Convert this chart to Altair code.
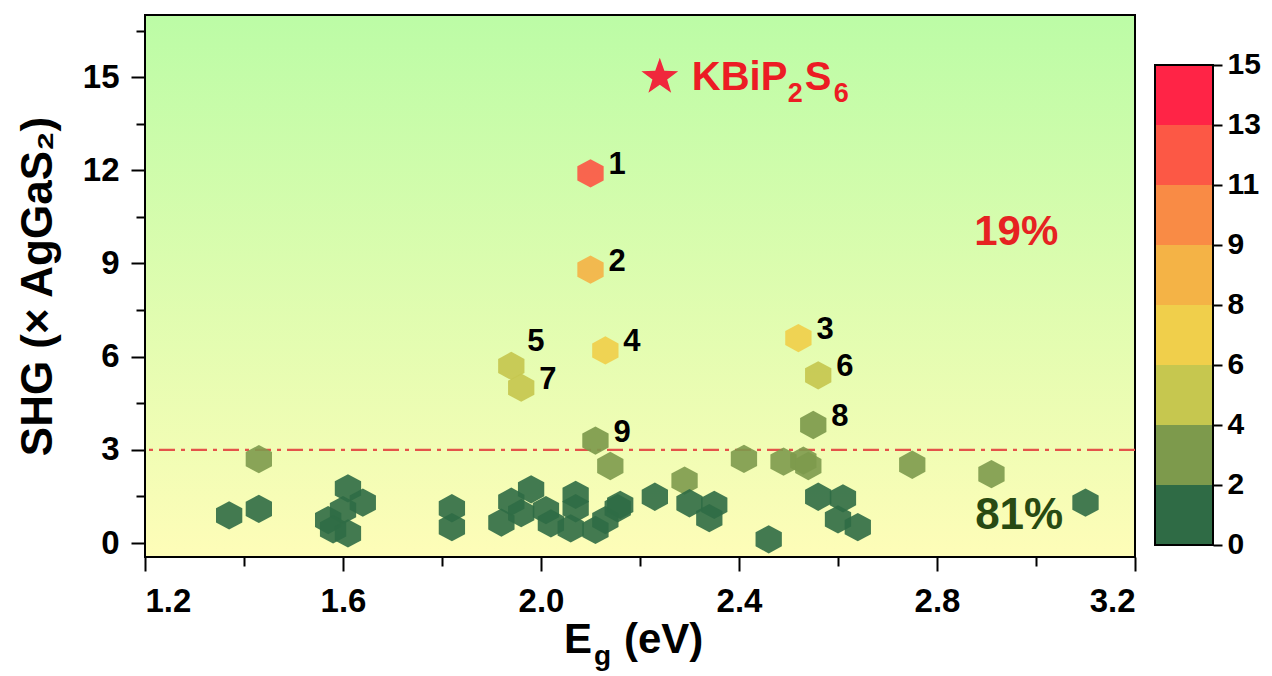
import json
import altair as alt
import pandas as pd

# ---------------- data ----------------
# labelled compounds 1-9
lab_names = ["1", "2", "3", "4", "5", "6", "7", "8", "9"]
lab_eg = [2.10, 2.10, 2.52, 2.13, 1.94, 2.56, 1.96, 2.55, 2.11]
lab_shg = [11.9, 8.8, 6.6, 6.2, 5.7, 5.4, 5.0, 3.8, 3.3]

# other compounds
oth_eg = [1.43, 1.37, 1.43, 1.61, 1.64, 1.60, 1.57, 1.58, 1.61, 1.82, 1.82,
          2.14, 2.41, 2.49, 2.53, 2.54, 2.29, 2.23, 1.92, 1.94, 1.98, 1.96,
          2.01, 2.02, 2.07, 2.07, 2.06, 2.11, 2.13, 2.16, 2.155, 2.30, 2.35,
          2.34, 2.46, 2.56, 2.61, 2.60, 2.64, 2.75, 2.91, 3.10]
oth_shg = [2.70, 0.89, 1.10, 1.76, 1.30, 1.06, 0.74, 0.44, 0.31, 1.12, 0.51,
           2.48, 2.71, 2.62, 2.65, 2.48, 2.01, 1.49, 0.66, 1.33, 1.73, 0.96,
           1.06, 0.63, 1.55, 1.12, 0.47, 0.42, 0.74, 1.23, 1.12, 1.28, 1.23,
           0.80, 0.12, 1.49, 1.44, 0.76, 0.51, 2.52, 2.22, 1.30]

# highlighted compound
star_eg = [2.24]
star_shg = [15.0]

# threshold line
ref_shg = [3]

# percentage annotations
pct_text = ["19%", "81%"]
pct_eg = [2.96, 2.966]
pct_shg = [10.0, 0.87]

# colour bar
cb_labels = ["0", "2", "4", "6", "8", "9", "11", "13", "15"]
cb_thresholds = [2, 4, 6, 8, 9, 11, 13]
palette = ["#2f6b45", "#7d9a4c", "#c6c74f", "#f0cf4b",
           "#f4b346", "#f98b45", "#fc5845", "#ff2446"]

x_ticks = [1.2, 1.4, 1.6, 1.8, 2.0, 2.2, 2.4, 2.6, 2.8, 3.0, 3.2]
y_ticks = [0, 1.5, 3, 4.5, 6, 7.5, 9, 10.5, 12, 13.5, 15, 16.5]

# ---------------- frames ----------------
lab_df = pd.DataFrame({"eg": lab_eg, "shg": lab_shg, "name": lab_names})
oth_df = pd.DataFrame({"eg": oth_eg, "shg": oth_shg})
star_df = pd.DataFrame({"eg": star_eg, "shg": star_shg})
ref_df = pd.DataFrame({"shg": ref_shg})
pct_df = pd.DataFrame({"eg": pct_eg, "shg": pct_shg, "t": pct_text})
cb_names = [f"{cb_labels[i]}–{cb_labels[i + 1]}" for i in range(len(cb_labels) - 1)]
cb_df = pd.DataFrame({"bin": cb_names, "lo": list(range(len(cb_names))),
                      "hi": list(range(1, len(cb_names) + 1))})
cb_frame_df = pd.DataFrame({"lo": [0], "hi": [len(cb_names)]})

W, H = 990, 542
CBW = 58
FONT = "Liberation Sans"

HEX = "M0,-1L0.93,-0.5L0.93,0.5L0,1L-0.93,0.5L-0.93,-0.5Z"
STAR = ("M0,-1L0.235,-0.324L0.951,-0.309L0.38,0.124L0.588,0.809L0,0.4"
        "L-0.588,0.809L-0.38,0.124L-0.951,-0.309L-0.235,-0.324Z")

xscale = alt.Scale(domain=[1.2, 3.2], nice=False, zero=False)
yscale = alt.Scale(domain=[-0.45, 17.0], nice=False, zero=False)

x_axis = alt.Axis(
    values=x_ticks, format=".1f", title=None,
    labelExpr="round(datum.value*10) % 4 === 0 ? datum.label : ''",
    tickSize={"condition": {"test": "round(datum.value*10) % 4 === 0", "value": 14}, "value": 9},
    labelPadding=14,
)
y_axis = alt.Axis(
    values=y_ticks, format="d", title="SHG (× AgGaS₂)",
    labelExpr="datum.value % 3 === 0 ? datum.label : ''",
    tickSize={"condition": {"test": "datum.value % 3 === 0", "value": 14}, "value": 9},
    labelPadding=12, titleFontSize=44, titlePadding=22,
)


def XE():
    return alt.X("eg:Q", scale=xscale, axis=x_axis)


def YE():
    return alt.Y("shg:Q", scale=yscale, axis=y_axis)


color_enc = alt.Color("shg:Q", scale=alt.Scale(type="threshold", domain=cb_thresholds,
                                               range=palette), legend=None)

one = alt.Data(values=[{}])

bg = alt.Chart(one).mark_rect(
    fill=alt.LinearGradient(
        gradient="linear",
        stops=[alt.GradientStop(color="#bcfca6", offset=0),
               alt.GradientStop(color="#fefdb8", offset=1)],
        x1=0, x2=0, y1=0, y2=1),
    stroke="black", strokeWidth=2,
).encode(x=alt.value(0), x2=alt.value(W), y=alt.value(0), y2=alt.value(H))

rule = alt.Chart(ref_df).mark_rule(color="#e4534a", strokeWidth=2.4,
                                   strokeDash=[16, 6, 4, 6]).encode(y=YE())

hex_oth = alt.Chart(oth_df).mark_point(shape=HEX, filled=True, size=800,
                                       opacity=0.9, strokeWidth=0).encode(
    x=XE(), y=YE(), color=color_enc)
hex_lab = alt.Chart(lab_df).mark_point(shape=HEX, filled=True, size=800,
                                       opacity=0.92, strokeWidth=0).encode(
    x=XE(), y=YE(), color=color_enc)

labels = alt.Chart(lab_df).transform_filter("datum.name !== '5'").mark_text(
    align="left", baseline="middle", dx=18, dy=-8, font=FONT, fontSize=31,
    fontWeight="bold", color="black").encode(x=XE(), y=YE(), text="name:N")
label5 = alt.Chart(lab_df).transform_filter("datum.name === '5'").mark_text(
    align="left", baseline="middle", dx=16, dy=-24, font=FONT, fontSize=31,
    fontWeight="bold", color="black").encode(x=XE(), y=YE(), text="name:N")

star = alt.Chart(star_df).mark_point(shape=STAR, filled=True, size=1500,
                                     color="#f0283c", opacity=1, strokeWidth=0).encode(
    x=XE(), y=YE())


def kb_piece(txt, dx, dy, size):
    return alt.Chart(star_df).mark_text(
        text=txt, align="left", baseline="alphabetic", dx=dx, dy=dy,
        font=FONT, fontSize=size, fontWeight="bold", color="#ec1c24"
    ).encode(x=XE(), y=YE())


KB_DX0 = 32  # gap between star and formula
kb = [kb_piece("KBiP", KB_DX0 + 0, 13, 40),
      kb_piece("2", KB_DX0 + 96, 25, 27),
      kb_piece("S", KB_DX0 + 113, 13, 40),
      kb_piece("6", KB_DX0 + 142, 25, 27)]

pct19 = alt.Chart(pct_df).transform_filter("datum.t === '19%'").mark_text(
    align="center", baseline="middle", font=FONT, fontSize=42, fontWeight="bold",
    color="#e62222").encode(x=XE(), y=YE(), text="t:N")
pct81 = alt.Chart(pct_df).transform_filter("datum.t === '81%'").mark_text(
    align="center", baseline="middle", font=FONT, fontSize=44, fontWeight="bold",
    color="#284a12").encode(x=XE(), y=YE(), text="t:N")


def xt_piece(txt, px, py, size):
    return alt.Chart(one).mark_text(
        text=txt, align="left", baseline="alphabetic", font=FONT, fontSize=size,
        fontWeight="bold", color="black"
    ).encode(x=alt.value(px), y=alt.value(py))


xtitle = [xt_piece("E", 419, 638, 42), xt_piece("g", 449, 650, 28),
          xt_piece("(eV)", 479, 638, 42)]

main = alt.layer(bg, rule, hex_oth, hex_lab, star, labels, label5,
                 pct19, pct81, *kb, *xtitle).properties(width=W, height=H)

# ---------------- colour bar ----------------
cb_scale = alt.Scale(domain=[-0.2, 8.8333], nice=False, zero=False)
cb_label_expr = json.dumps(cb_labels) + "[datum.value]"
cb_axis = alt.Axis(orient="right", values=list(range(len(cb_labels))),
                   labelExpr=cb_label_expr, tickSize=9, labelPadding=5,
                   title=None, labelFontSize=30)
cb_rect = alt.Chart(cb_df).mark_rect().encode(
    x=alt.value(0), x2=alt.value(CBW),
    y=alt.Y("lo:Q", scale=cb_scale, axis=cb_axis),
    y2="hi:Q",
    color=alt.Color("bin:N", scale=alt.Scale(domain=cb_names, range=palette), legend=None),
)
cb_frame = alt.Chart(cb_frame_df).mark_rect(fillOpacity=0, stroke="black", strokeWidth=2).encode(
    x=alt.value(0), x2=alt.value(CBW),
    y=alt.Y("lo:Q", scale=cb_scale, axis=cb_axis), y2="hi:Q")
cbar = alt.layer(cb_rect, cb_frame).properties(width=CBW, height=H)

chart = alt.hconcat(main, cbar, spacing=17).properties(
    padding={"left": 8, "top": 6, "right": 0, "bottom": 0}
).configure_view(stroke=None).configure_axis(
    labelFont=FONT, labelFontSize=33, labelFontWeight="bold", labelColor="black",
    tickColor="black", tickWidth=2, domain=False, grid=False,
    titleFont=FONT, titleFontWeight="bold", titleColor="black",
)

chart.save("out.html", embed_options={"renderer": "svg", "actions": False})
